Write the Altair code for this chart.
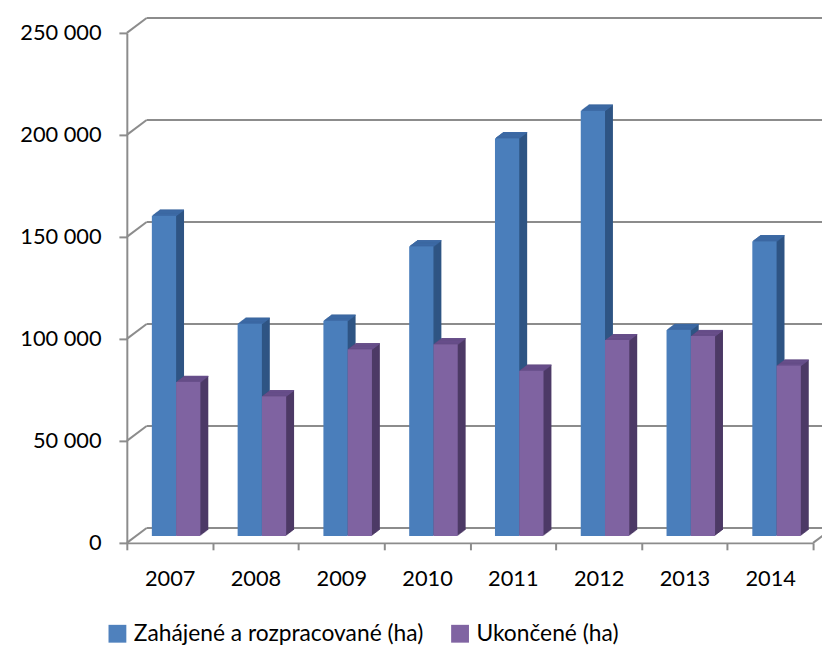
import altair as alt
import pandas as pd

years = ["2007", "2008", "2009", "2010", "2011", "2012", "2013", "2014"]
zahajene = [157000, 104000, 105500, 142000, 195000, 208500, 101000, 144500]
ukoncene = [75500, 68500, 91500, 94000, 81000, 96000, 98000, 83500]
series_names = ["Zahájené a rozpracované (ha)", "Ukončené (ha)"]
tick_values = [0, 50000, 100000, 150000, 200000, 250000]

FONT = "Lato"
GRID = "#8c8c8c"
FRONT = ["#4a7ebb", "#7f63a1"]
TOP = ["#3d6aa5", "#684f8b"]
SIDE = ["#2f5584", "#4d3a66"]
LEGEND_COLORS = ["#4f81bd", "#8064a2"]

W, H = 693, 515
WALL_DX, WALL_DY = 20, -15
BAR_W = 24.5
BAR_SHIFT = [-5.8, 18.7]
BAR_DY = -7
DEPTH = 8

rows = []
for i, y in enumerate(years):
    rows.append({"year": y, "series": series_names[0], "value": zahajene[i]})
    rows.append({"year": y, "series": series_names[1], "value": ukoncene[i]})
df = pd.DataFrame(rows)
ticks_df = pd.DataFrame({"value": tick_values})
floor_df = pd.DataFrame({"value": [0]})

y_scale = alt.Scale(domain=[0, 250000], nice=False, zero=True)
y_axis = alt.Axis(
    values=tick_values,
    labelExpr="replace(format(datum.value, ','), ',', ' ')",
    title=None, grid=False,
    domainColor=GRID, domainWidth=2,
    tickColor=GRID, tickWidth=2, tickSize=8,
    labelFontSize=22, labelFont=FONT, labelColor="black",
    labelPadding=18, labelFlush=False, labelOverlap=False,
)
x_axis = alt.Axis(
    title=None, labelAngle=0, labelFontSize=22, labelFont=FONT,
    labelColor="black", labelPadding=19, tickBand="extent",
    tickSize=7, tickWidth=2, tickColor=GRID,
    domainColor=GRID, domainWidth=2,
)
Y = alt.Y("value:Q", scale=y_scale, axis=y_axis)
X = alt.X("year:N", scale=alt.Scale(domain=years, paddingInner=0, paddingOuter=0), axis=x_axis)
legend = alt.Legend(
    title=None, orient="none", legendX=-21, legendY=595, direction="horizontal",
    symbolType="square", symbolSize=324, symbolStrokeWidth=0,
    labelFontSize=23, labelFont=FONT, labelColor="black",
    columnPadding=25, labelLimit=0, labelOffset=5,
)
COLOR = alt.Color("series:N", scale=alt.Scale(domain=series_names, range=LEGEND_COLORS), legend=legend)

layers = []
# back wall gridlines
layers.append(alt.Chart(ticks_df).mark_rule(color=GRID, strokeWidth=2, yOffset=WALL_DY).encode(
    y=Y, x=alt.value(WALL_DX), x2=alt.value(W + 40)))
layers.append(alt.Chart(ticks_df).mark_rule(color=GRID, strokeWidth=2, y2Offset=WALL_DY).encode(
    y=Y, y2=alt.Y2("value:Q"), x=alt.value(0), x2=alt.value(WALL_DX)))
layers.append(alt.Chart(floor_df).mark_rule(color=GRID, strokeWidth=2, y2Offset=WALL_DY).encode(
    y=Y, y2=alt.Y2("value:Q"), x=alt.value(W), x2=alt.value(W + WALL_DX)))

for s in range(2):
    sdf = df[df["series"] == series_names[s]]
    base = alt.Chart(sdf)
    # extrusion (side colour)
    for i in range(DEPTH, 0, -1):
        layers.append(base.mark_bar(
            width=BAR_W, color=SIDE[s], xOffset=BAR_SHIFT[s] + i,
            yOffset=BAR_DY - 0.75 * i, y2Offset=BAR_DY - 0.75 * i,
        ).encode(x=X, y=Y))
    # top face strips
    for i in range(DEPTH, 0, -1):
        layers.append(base.mark_bar(
            width=BAR_W, color=TOP[s], xOffset=BAR_SHIFT[s] + i,
            yOffset=BAR_DY - 0.75 * i - 0.2, y2Offset=BAR_DY - 0.75 * (i - 1) + 0.2,
        ).encode(x=X, y=Y, y2=alt.Y2("value:Q")))
    # front face
    layers.append(base.mark_bar(
        width=BAR_W, xOffset=BAR_SHIFT[s], yOffset=BAR_DY, y2Offset=BAR_DY,
        fill=FRONT[s], opacity=1,
    ).encode(x=X, y=Y, color=COLOR))

chart = alt.layer(*layers).properties(
    width=W, height=H,
    padding={"left": 120, "top": 22, "right": 9, "bottom": 103},
    autosize="none",
).configure_view(stroke=None)

chart.save("out.html", embed_options={"renderer": "svg", "actions": False})
